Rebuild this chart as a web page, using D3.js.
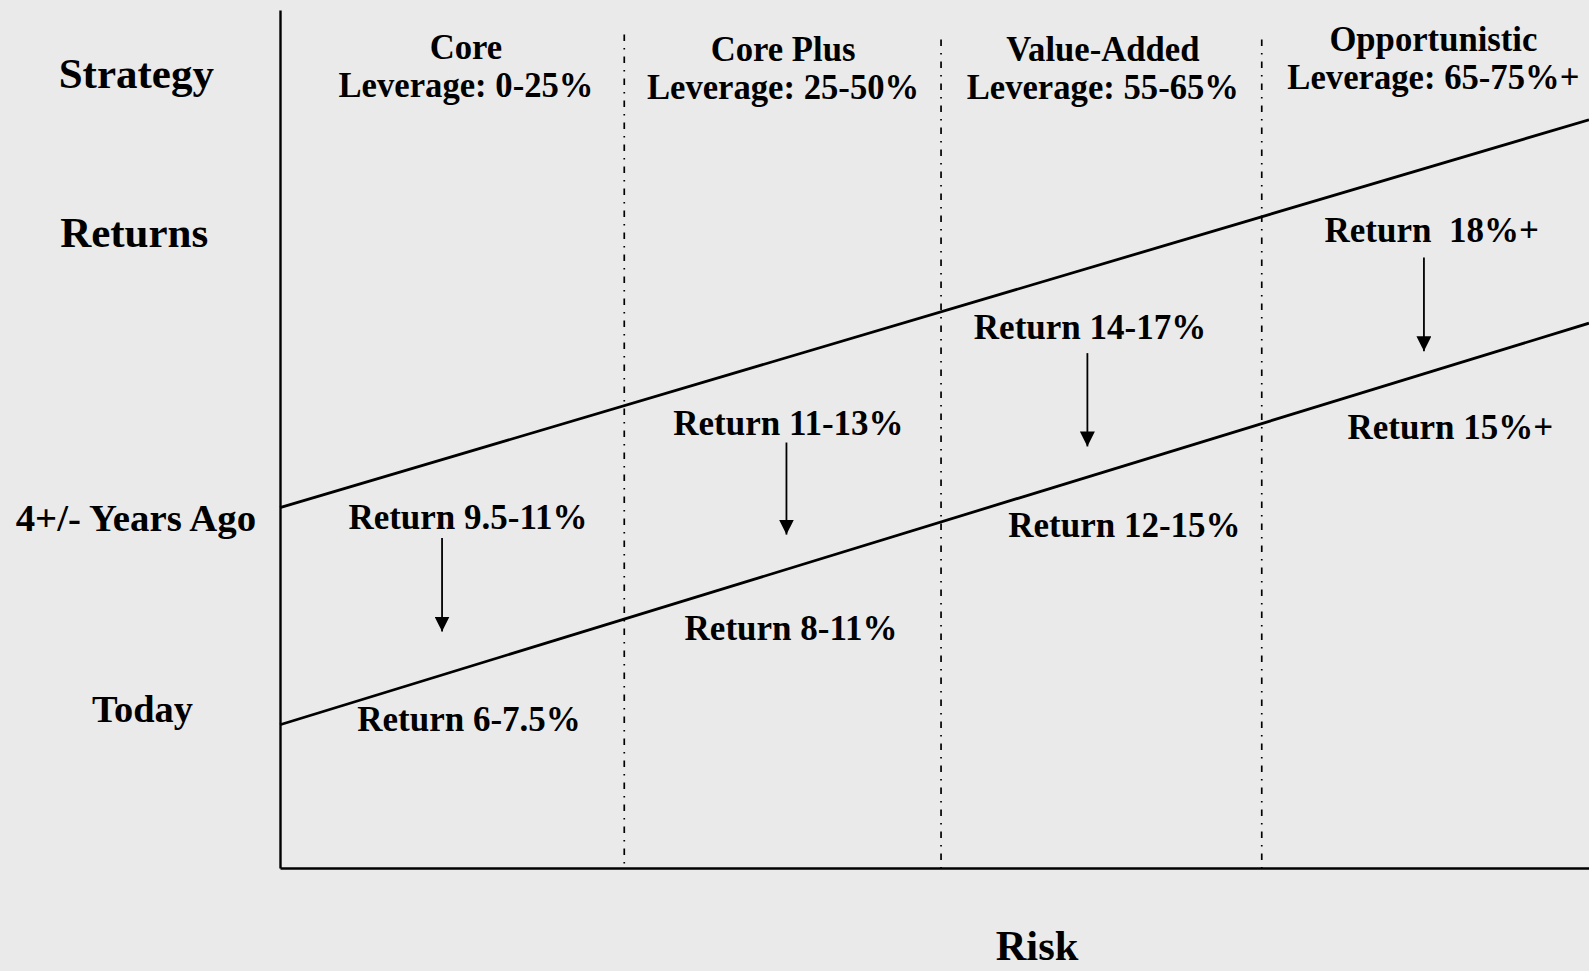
<!DOCTYPE html>
<html>
<head>
<meta charset="utf-8">
<script src="https://cdn.jsdelivr.net/npm/d3@7"></script>
<style>
  html, body { margin: 0; padding: 0; background: #eaeaea; }
  svg { display: block; }
  text { font-family: "Liberation Serif", "Times New Roman", serif; font-weight: bold; fill: #000; white-space: pre; }
</style>
</head>
<body>
<div id="chart"></div>
<script>
// ---- data -------------------------------------------------------------
const strategies   = ["Core", "Core Plus", "Value-Added", "Opportunistic"];
const leverage     = ["Leverage: 0-25%", "Leverage: 25-50%", "Leverage: 55-65%", "Leverage: 65-75%+"];
const pastReturns  = ["Return 9.5-11%", "Return 11-13%", "Return 14-17%", "Return  18%+"];
const todayReturns = ["Return 6-7.5%", "Return 8-11%", "Return 12-15%", "Return 15%+"];

// strategy band boundaries along the risk axis (0-100)
const bandEdges = [26.3, 50.5, 75.0];

// return trend lines (risk, return) in chart units 0-100
const pastTrend  = [[0, 42.0], [100, 87.2]];
const todayTrend = [[0, 16.7], [100, 63.5]];

// ---- layout -----------------------------------------------------------
const W = 1589, H = 971;
const plot = { left: 280, right: 1589, top: 10, bottom: 868 };

const x = d3.scaleLinear().domain([0, 100]).range([plot.left, plot.right]);
const y = d3.scaleLinear().domain([0, 100]).range([plot.bottom, plot.top]);

// annotation anchors in chart units
const headerX    = [14.21, 38.43, 62.86, 88.11];
const headerY    = [94.28, 94.00, 94.08, 95.18];
const pastLabel  = [[14.36, 39.56], [38.84, 50.43], [61.88, 61.67], [87.98, 72.96]];
const todayLabel = [[14.44, 16.00], [39.04, 26.55], [64.51, 38.62], [89.41, 50.02]];
const arrowX     = [12.38, 38.69, 61.68, 87.39];
const arrowFrom  = [38.47, 49.59, 60.01, 71.14];
const arrowTo    = [27.56, 38.86, 49.13, 60.24];
const dividerTop = [97.14, 96.56, 96.56];

const svg = d3.select("#chart").append("svg")
  .attr("width", W).attr("height", H)
  .attr("viewBox", `0 0 ${W} ${H}`);

svg.append("rect").attr("width", W).attr("height", H).attr("fill", "#eaeaea");

svg.append("defs").append("marker")
  .attr("id", "head")
  .attr("viewBox", "0 0 10 10")
  .attr("refX", 10).attr("refY", 5)
  .attr("markerUnits", "userSpaceOnUse")
  .attr("markerWidth", 15).attr("markerHeight", 15)
  .attr("orient", "auto")
  .append("path").attr("d", "M0,0 L10,5 L0,10 Z").attr("fill", "#000");

// strategy dividers (dash-dot)
svg.append("g").selectAll("line").data(bandEdges).join("line")
  .attr("x1", d => x(d)).attr("x2", d => x(d))
  .attr("y1", (d, i) => y(dividerTop[i])).attr("y2", y(0))
  .attr("stroke", "#000").attr("stroke-width", 1.7)
  .attr("stroke-dasharray", "6.5,7,1.5,7");

// axes without ticks
svg.append("g").attr("transform", `translate(0,${y(0)})`)
  .call(d3.axisBottom(x).tickValues([]).tickSizeOuter(0))
  .call(g => g.select(".domain").attr("stroke-width", 2.4));
svg.append("g").attr("transform", `translate(${x(0)},0)`)
  .call(d3.axisLeft(y).tickValues([]).tickSizeOuter(0))
  .call(g => g.select(".domain").attr("stroke-width", 2.4));

// return trend lines
const line = d3.line().x(d => x(d[0])).y(d => y(d[1]));
svg.append("g").selectAll("path").data([pastTrend, todayTrend]).join("path")
  .attr("d", line).attr("fill", "none")
  .attr("stroke", "#000").attr("stroke-width", 2.8);

// strategy headers (slightly condensed face)
const hdr = svg.append("g").attr("text-anchor", "middle").style("font-size", "36.5px");
strategies.forEach((s, i) => {
  const t = hdr.append("text")
    .attr("transform", `translate(${x(headerX[i])},${y(headerY[i])}) scale(0.95,1)`);
  t.append("tspan").attr("x", 0).text(s);
  t.append("tspan").attr("x", 0).attr("dy", 38).text(leverage[i]);
});

// return labels
const lbl = svg.append("g").attr("text-anchor", "middle").style("font-size", "35px");
lbl.selectAll("text.past").data(pastReturns).join("text").attr("class", "past")
  .attr("x", (d, i) => x(pastLabel[i][0])).attr("y", (d, i) => y(pastLabel[i][1]))
  .text(d => d);
lbl.selectAll("text.today").data(todayReturns).join("text").attr("class", "today")
  .attr("x", (d, i) => x(todayLabel[i][0])).attr("y", (d, i) => y(todayLabel[i][1]))
  .text(d => d);

// arrows from past to today
svg.append("g").selectAll("line").data(strategies).join("line")
  .attr("x1", (d, i) => x(arrowX[i])).attr("x2", (d, i) => x(arrowX[i]))
  .attr("y1", (d, i) => y(arrowFrom[i])).attr("y2", (d, i) => y(arrowTo[i]))
  .attr("stroke", "#000").attr("stroke-width", 1.8)
  .attr("marker-end", "url(#head)");

// row and axis titles
svg.append("text").attr("x", 136.3).attr("y", 88.3).attr("text-anchor", "middle")
  .style("font-size", "43px").text("Strategy");
svg.append("text").attr("x", 134.2).attr("y", 246.7).attr("text-anchor", "middle")
  .style("font-size", "43px").text("Returns");
svg.append("text").attr("x", 135.9).attr("y", 531).attr("text-anchor", "middle")
  .style("font-size", "38.8px").text("4+/- Years Ago");
svg.append("text").attr("x", 142.5).attr("y", 721.7).attr("text-anchor", "middle")
  .style("font-size", "38.4px").text("Today");
svg.append("text").attr("x", 1037).attr("y", 960).attr("text-anchor", "middle")
  .style("font-size", "42.5px").text("Risk");
</script>
</body>
</html>
